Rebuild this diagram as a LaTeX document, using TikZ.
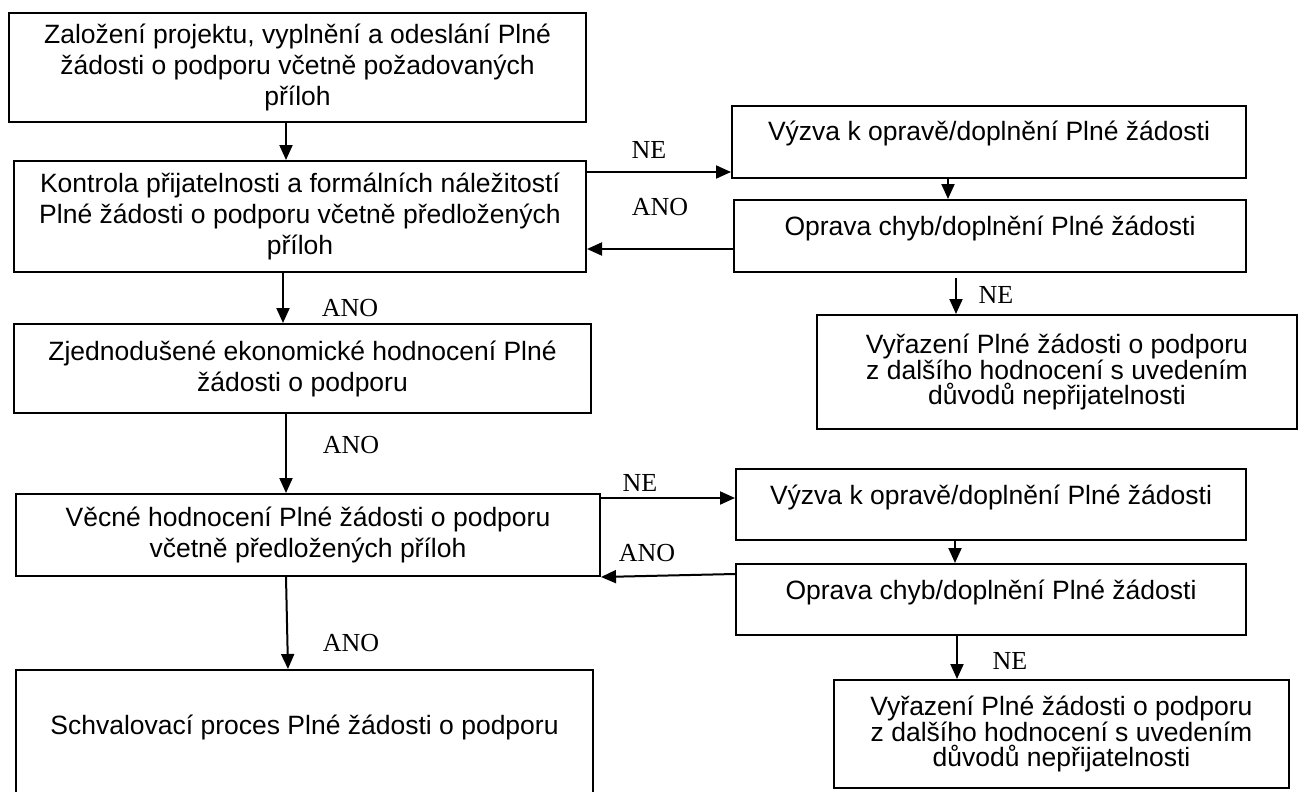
\documentclass[tikz,border=0pt]{standalone}
\usepackage{fontspec}
\setmainfont{Liberation Sans}
\newfontfamily\lblfont{Liberation Serif}
\usetikzlibrary{arrows.meta}
\begin{document}
\begin{tikzpicture}[x=1pt,y=-1pt,
  box/.style={draw=black, line width=2pt, anchor=north west, inner sep=0pt, align=center,
    font=\fontsize{26.5}{31}\selectfont},
  tightbox/.style={box, font=\fontsize{26.5}{25.5}\selectfont},
  arr/.style={line width=2pt, -{Triangle[length=15pt,width=13pt]}},
  lbl/.style={font=\lblfont\fontsize{26}{30}\selectfont, inner sep=0pt}]
\useasboundingbox (0,0) rectangle (1299,792);
\clip (0,0) rectangle (1299,792);
% left column
\node[box, minimum width=577pt, minimum height=109pt] (A) at (8,12)
  {Založení projektu, vyplnění a odeslání Plné\\ žádosti o podporu včetně požadovaných\\ příloh};
\node[box, minimum width=572pt, minimum height=111pt] (B) at (13,160)
  {Kontrola přijatelnosti a formálních náležitostí\\ Plné žádosti o podporu včetně předložených\\ příloh};
\node[box, minimum width=577pt, minimum height=89pt] (C) at (13,323)
  {Zjednodušené ekonomické hodnocení Plné\\ žádosti o podporu};
\node[box, minimum width=584pt, minimum height=82pt] (D) at (15,493)
  {Věcné hodnocení Plné žádosti o podporu\\ včetně předložených příloh};
\node[box, minimum width=577pt, text height=64.5pt, text depth=86.5pt] (E) at (15,669)
  {Schvalovací proces Plné žádosti o podporu};
% right column
\node[box, minimum width=514pt, text height=34.5pt, text depth=37.5pt] (R1) at (731,105)
  {Výzva k opravě/doplnění Plné žádosti};
\node[box, minimum width=512pt, text height=35.5pt, text depth=36.5pt] (R2) at (733,199)
  {Oprava chyb/doplnění Plné žádosti};
\node[tightbox, minimum width=480pt, minimum height=114pt] (R3) at (816,314)
  {Vyřazení Plné žádosti o podporu\\ z dalšího hodnocení s uvedením\\ důvodů nepřijatelnosti};
\node[box, minimum width=510pt, text height=35.5pt, text depth=35.5pt] (R4) at (735,468)
  {Výzva k opravě/doplnění Plné žádosti};
\node[box, minimum width=510pt, text height=35.5pt, text depth=35.5pt] (R5) at (735,563)
  {Oprava chyb/doplnění Plné žádosti};
\node[tightbox, minimum width=455pt, minimum height=108pt] (R6) at (833,679)
  {Vyřazení Plné žádosti o podporu\\ z dalšího hodnocení s uvedením\\ důvodů nepřijatelnosti};
% helper coordinates
\coordinate (cA) at (286,0);
\coordinate (cB) at (283,0);
\coordinate (cD1) at (286,0);
\coordinate (cD2) at (288,0);
\coordinate (c12) at (948,0);
\coordinate (c23) at (956,0);
\coordinate (c45) at (955,0);
\coordinate (c56) at (957,0);
\coordinate (yNE1) at (0,172);
\coordinate (yANO1) at (0,249);
\coordinate (yNE2) at (0,498);
\coordinate (yANO2) at (0,574);
% connectors
\draw[arr] (cA |- A.south) -- (cA |- B.north);
\draw[arr] (cB |- B.south) -- (cB |- C.north);
\draw[arr] (cA |- C.south) -- (cA |- D.north);
\draw[arr] (cD1 |- D.south) -- (cD2 |- E.north);
\draw[arr] (B.east |- yNE1) -- (R1.west |- yNE1);
\draw[arr] (R2.west |- yANO1) -- (B.east |- yANO1);
\draw[arr] (c12 |- R1.south) -- (c12 |- R2.north);
\draw[arr, shorten <=5pt] (c23 |- R2.south) -- (c23 |- R3.north);
\draw[arr] (D.east |- yNE2) -- (R4.west |- yNE2);
\draw[arr] (R5.west |- yANO2) -- (D.south east);
\draw[arr] (c45 |- R4.south) -- (c45 |- R5.north);
\draw[arr] (c56 |- R5.south) -- (c56 |- R6.north);
% labels
\node[lbl] (l1) at (350,308) {ANO};
\node[lbl] (l2) at (351,445) {ANO};
\node[lbl] (l3) at (351,643) {ANO};
\node[lbl] (l4) at (649,150) {NE};
\node[lbl] (l5) at (660,207) {ANO};
\node[lbl] (l6) at (996,295) {NE};
\node[lbl] (l7) at (640,483) {NE};
\node[lbl] (l8) at (647,553) {ANO};
\node[lbl] (l9) at (1010,661) {NE};
\end{tikzpicture}
\end{document}
